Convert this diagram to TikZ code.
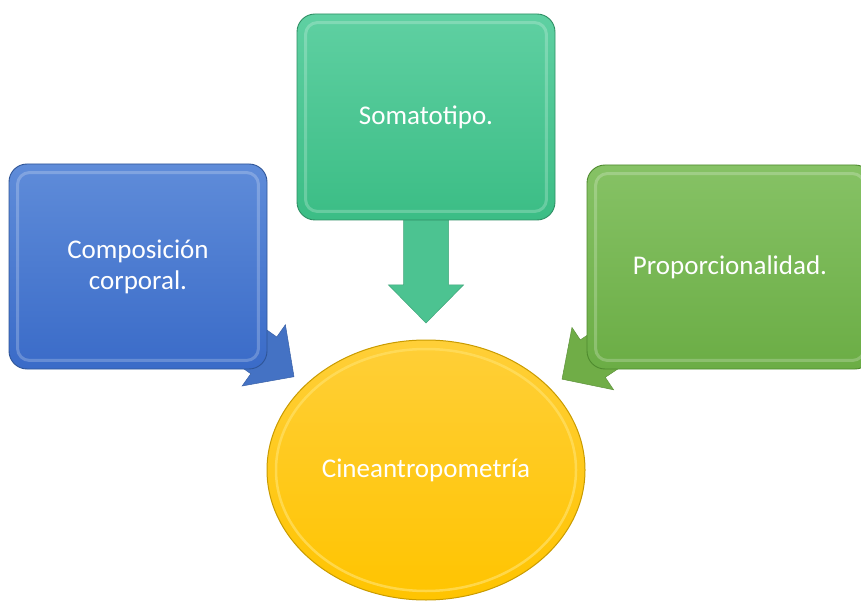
\documentclass[tikz,border=0pt]{standalone}
\usepackage{fontspec}
\setmainfont{Carlito}
\usetikzlibrary{calc,shapes.geometric}
\pgfdeclarelayer{arrows}
\pgfsetlayers{arrows,main}

\definecolor{blueTop}{HTML}{5F8CD9}
\definecolor{blueBot}{HTML}{3A6BC8}
\definecolor{blueEdge}{HTML}{2F5597}
\definecolor{blueArrow}{HTML}{4472C4}
\definecolor{tealTop}{HTML}{5FD0A2}
\definecolor{tealBot}{HTML}{3BBD85}
\definecolor{tealEdge}{HTML}{2E8F64}
\definecolor{tealArrow}{HTML}{4CC391}
\definecolor{leafTop}{HTML}{86C265}
\definecolor{leafBot}{HTML}{6BAD45}
\definecolor{leafEdge}{HTML}{4E8A2E}
\definecolor{leafArrow}{HTML}{70AD47}
\definecolor{goldTop}{HTML}{FFCF38}
\definecolor{goldBot}{HTML}{FFC400}
\definecolor{goldEdge}{HTML}{C99B00}
\definecolor{goldRim}{HTML}{FFE066}

\tikzset{
  card/.style={rectangle, rounded corners=18pt, inner sep=0pt, align=center,
    text=white, font=\fontsize{27}{31}\selectfont, line width=0.9pt},
  bluecard/.style={card, top color=blueTop, bottom color=blueBot, draw=blueEdge},
  tealcard/.style={card, top color=tealTop, bottom color=tealBot, draw=tealEdge},
  leafcard/.style={card, top color=leafTop, bottom color=leafBot, draw=leafEdge},
  hub/.style={ellipse, inner sep=0pt, text=white, font=\fontsize{27}{31}\selectfont,
    top color=goldTop, bottom color=goldBot, draw=goldEdge, line width=1pt},
  bevel/.style={draw=white, opacity=0.22, line width=3pt, rounded corners=12pt},
}

% block arrow: from node, to node, tip distance, head-base distance, colour
\newcommand\blockarrow[5]{%
  \path ($(#1)!#3!(#2)$) coordinate (tip) ($(#1)!#4!(#2)$) coordinate (hb);
  \filldraw[fill=#5, draw=#5!85!black, line width=0.5pt, line join=miter]
    ($(#1)!22.5pt!90:(hb)$) -- ($(hb)!22.5pt!-90:(#1)$) -- ($(hb)!37.5pt!-90:(#1)$)
    -- (tip) -- ($(hb)!37.5pt!90:(#1)$) -- ($(hb)!22.5pt!90:(#1)$)
    -- ($(#1)!22.5pt!-90:(hb)$) -- cycle;
}

\begin{document}
\begin{tikzpicture}[x=1pt, y=-1pt]
  \useasboundingbox (0,0) rectangle (861,601);

  % central ellipse
  \node[hub, minimum width=318pt, minimum height=260pt] (hub) at (426,470) {Cineantropometría};
  \draw[goldRim, opacity=0.7, line width=2.5pt] (426,470) ellipse [x radius=150, y radius=121];

  % the three source boxes
  \node[bluecard, minimum width=258pt, minimum height=205pt] (comp) at (138,266.5)
    {Composición\\corporal.};
  \node[tealcard, minimum width=258pt, minimum height=206pt] (soma) at (426,117)
    {Somatotipo.};
  \node[leafcard, minimum width=286pt, minimum height=204pt] (prop) at (730,267)
    {Proporcionalidad.};

  % inner bevel highlights
  \foreach \n in {comp,soma,prop}
    \draw[bevel] ([shift={(9pt,-9pt)}]\n.north west) rectangle ([shift={(-9pt,9pt)}]\n.south east);

  % block arrows behind the boxes
  \begin{pgfonlayer}{arrows}
    \blockarrow{comp}{hub}{191pt}{154pt}{blueArrow}
    \blockarrow{soma}{hub}{206pt}{168pt}{tealArrow}
    \blockarrow{prop}{hub}{202pt}{165pt}{leafArrow}
  \end{pgfonlayer}
\end{tikzpicture}
\end{document}
